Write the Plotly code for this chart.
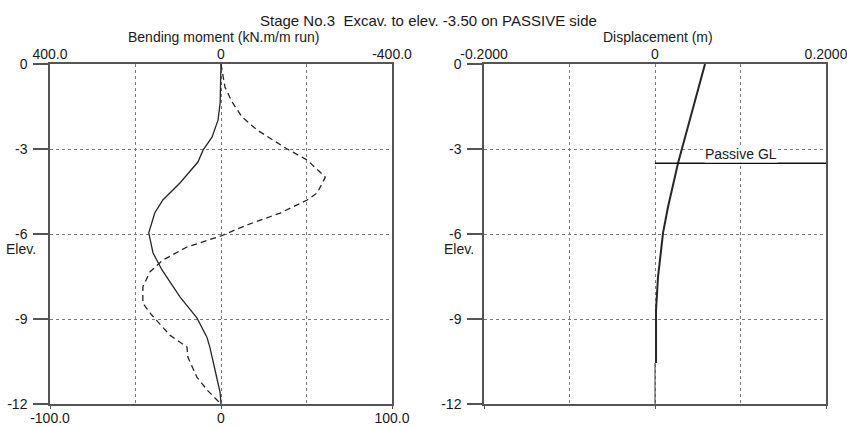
import plotly.graph_objects as go

# ---------------- data ----------------
# Bending moment (kN.m/m run) vs elevation (m)
elev_bm = [0, -1.38, -1.98, -2.58, -3.04, -3.46, -4.2, -4.8, -5.26, -5.96, -6.67,
           -7.27, -8.22, -8.97, -9.64, -10.0, -10.8, -11.6, -12]
bending_moment = [0, 2, 7, 21, 42, 54, 96, 136, 155, 169, 159, 138, 96, 56, 33,
                  26, 14, 2, 0]

# Shear force (bottom axis) vs elevation (m)
elev_sf = [0, -0.81, -1.34, -1.87, -2.33, -2.68, -3.0, -3.39, -3.99, -4.55, -4.8,
           -5.26, -5.68, -6.07, -6.46, -6.92, -7.34, -7.87, -8.44, -8.86, -9.57,
           -9.99, -10.34, -11.05, -11.5, -12]
shear_force = [0, 2.3, 6.5, 12.3, 21.1, 29.9, 38.7, 50.4, 61.0, 56.3, 50.4, 34.6,
               15.2, 0, -19.9, -34.0, -41.6, -45.7, -45.7, -40.5, -29.9, -19.9,
               -19.4, -14.1, -8.2, 0]

# Displacement (m) vs elevation (m)
elev_disp = [0, -1.75, -3.5, -5.05, -5.96, -6.92, -7.52, -8.68, -10.55]
displacement = [0.0585, 0.0427, 0.0269, 0.0152, 0.0094, 0.0058, 0.0035, 0.0012, 0.0012]
toe_elev = [-10.55, -12]
toe_disp = [0, 0]

# Passive ground level
passive_gl_elev = -3.5
passive_gl_x = [0, 0.2]

elev_ticks = [0, -3, -6, -9, -12]
elev_labels = ["0", "-3", "-6", "-9", "-12"]
bm_ticks = [400, 200, 0, -200, -400]
bm_labels = ["400.0", "", "0", "", "-400.0"]
sf_ticks = [-100, 0, 100]
sf_labels = ["-100.0", "0", "100.0"]
disp_ticks = [-0.2, -0.1, 0, 0.1, 0.2]
disp_labels = ["-0.2000", "", "0", "", "0.2000"]

title_text = "Stage No.3  Excav. to elev. -3.50 on PASSIVE side"

# ---------------- figure ----------------
W, H = 847, 427
FONT = "Liberation Sans, Arial, sans-serif"
FSIZE = 14
FRAME = "#555555"
GRID = "#7a7a7a"
CURVE = "#262626"
EPS = 1e-7

def px(x):
    return x / W

def py(y):
    return 1 - y / H

dom_left = [px(50), px(392)]
dom_right = [px(484), px(826)]
dom_y = [py(404), py(64)]

fig = go.Figure()

fig.add_trace(go.Scatter(x=bending_moment, y=elev_bm, xaxis="x2", yaxis="y",
                         mode="lines", line=dict(color=CURVE, width=1.3),
                         showlegend=False, hoverinfo="skip"))
fig.add_trace(go.Scatter(x=shear_force, y=elev_sf, xaxis="x", yaxis="y",
                         mode="lines", line=dict(color=CURVE, width=1.3, dash="6px,4px"),
                         showlegend=False, hoverinfo="skip"))
fig.add_trace(go.Scatter(x=toe_disp, y=toe_elev, xaxis="x3", yaxis="y2",
                         mode="lines", line=dict(color=FRAME, width=1.2),
                         showlegend=False, hoverinfo="skip"))
fig.add_trace(go.Scatter(x=displacement, y=elev_disp, xaxis="x4", yaxis="y2",
                         mode="lines", line=dict(color=CURVE, width=2),
                         showlegend=False, hoverinfo="skip"))
fig.add_trace(go.Scatter(x=passive_gl_x, y=[passive_gl_elev] * 2, xaxis="x4", yaxis="y2",
                         mode="lines", line=dict(color="#111111", width=1.5),
                         showlegend=False, hoverinfo="skip"))

tickfont = dict(family=FONT, size=FSIZE, color="#1a1a1a")

common_x = dict(showline=True, linecolor=FRAME, linewidth=1.5, zeroline=False,
                tickfont=tickfont, fixedrange=True, automargin=False,
                ticklabeloverflow="allow")
common_y = dict(range=[-12 - EPS, 0 + EPS], tickvals=elev_ticks, ticktext=elev_labels,
                ticks="outside", ticklen=15, tickcolor=FRAME, tickwidth=1.5,
                showline=True, linecolor=FRAME, linewidth=1.5, mirror=True,
                showgrid=True, gridcolor=GRID, griddash="dot", gridwidth=1,
                zeroline=False, tickfont=tickfont, domain=dom_y, ticklabelstandoff=3,
                automargin=False, fixedrange=True)

fig.update_layout(
    width=W, height=H,
    margin=dict(l=0, r=0, t=0, b=0, autoexpand=False),
    paper_bgcolor="white", plot_bgcolor="white",
    font=dict(family=FONT, size=FSIZE, color="#1a1a1a"),
    xaxis=dict(common_x, domain=dom_left, anchor="y", range=[-100, 100],
               tickvals=sf_ticks, ticktext=sf_labels, ticks="outside", ticklen=3,
               tickcolor=FRAME, showgrid=False, ticklabelstandoff=-3),
    xaxis2=dict(common_x, domain=dom_left, anchor="y", overlaying="x", side="top",
                range=[400, -400], tickvals=bm_ticks, ticktext=bm_labels, ticks="",
                showgrid=True, gridcolor=GRID, griddash="dot", gridwidth=1,
                ticklabelstandoff=-2),
    xaxis3=dict(common_x, domain=dom_right, anchor="y2", range=[-0.2 - EPS, 0.2 + EPS],
                tickvals=[-0.2, 0, 0.2], showticklabels=False, ticks="outside",
                ticklen=3, tickcolor=FRAME, showgrid=False),
    xaxis4=dict(common_x, domain=dom_right, anchor="y2", overlaying="x3", side="top",
                range=[-0.2 - EPS, 0.2 + EPS], tickvals=disp_ticks, ticktext=disp_labels,
                ticks="", showgrid=True, gridcolor=GRID, griddash="dot", gridwidth=1,
                ticklabelstandoff=-2),
    yaxis=dict(common_y, anchor="x"),
    yaxis2=dict(common_y, anchor="x3"),
)

ann_font = dict(family=FONT, size=FSIZE, color="#1a1a1a")
fig.add_annotation(text=title_text, x=px(429), y=py(20), xref="paper", yref="paper",
                   showarrow=False, xanchor="center", yanchor="middle",
                   font=dict(family=FONT, size=15, color="#1a1a1a"))
fig.add_annotation(text="Bending moment (kN.m/m run)", x=px(223), y=py(37),
                   xref="paper", yref="paper", showarrow=False, xanchor="center",
                   yanchor="middle", font=ann_font)
fig.add_annotation(text="Displacement (m)", x=px(658), y=py(37),
                   xref="paper", yref="paper", showarrow=False, xanchor="center",
                   yanchor="middle", font=ann_font)
fig.add_annotation(text="Elev.", x=px(4), y=py(249), xref="paper", yref="paper",
                   showarrow=False, xanchor="left", yanchor="middle", font=ann_font)
fig.add_annotation(text="Elev.", x=px(442), y=py(249), xref="paper", yref="paper",
                   showarrow=False, xanchor="left", yanchor="middle", font=ann_font)
fig.add_annotation(text="Passive GL", x=0.1, y=passive_gl_elev, xref="x4", yref="y2",
                   showarrow=False, xanchor="center", yanchor="bottom", yshift=0,
                   bgcolor="white", borderpad=0, font=ann_font)

fig.write_html("out.html")
